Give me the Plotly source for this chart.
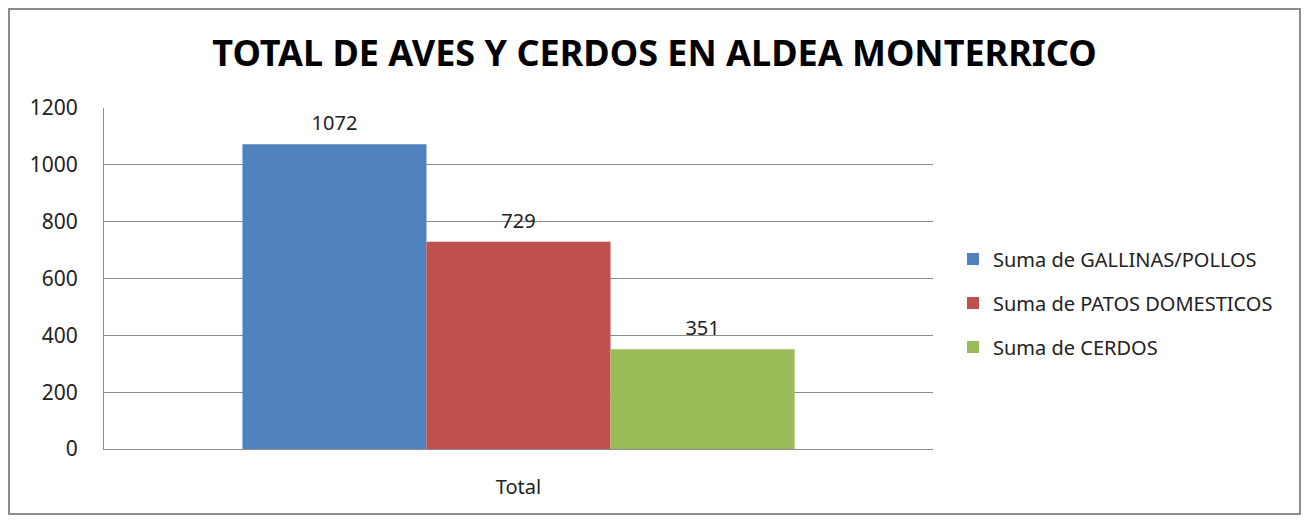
import plotly.graph_objects as go

categories = ['Total']
series_names = ['Suma de GALLINAS/POLLOS', 'Suma de PATOS DOMESTICOS', 'Suma de CERDOS']
series_values = [[1072], [729], [351]]
series_colors = ['#4F81BD', '#C0504D', '#9BBB59']
y_ticks = [0, 200, 400, 600, 800, 1000, 1200]

FONT = 'Noto Sans'
W, H = 1293, 507
L, T, R, B = 96, 100, 925, 441  # plot area in px (page is offset by body margin)

fig = go.Figure()
for i, (name, vals, col) in enumerate(zip(series_names, series_values, series_colors)):
    # small blank second line lifts the label a bit above the bar, like the original
    fig.add_trace(go.Bar(x=categories, y=vals, name=name, marker=dict(color=col, line=dict(width=0)),
                         text=[f'<span style="font-size:20px">{v}</span><br> ' for v in vals],
                         textposition='outside', cliponaxis=False,
                         textfont=dict(size=7, color='#222222'), legendgroup=str(i)))

fig.update_layout(
    width=W, height=H, barmode='group', bargap=0.334, bargroupgap=0,
    plot_bgcolor='white', paper_bgcolor='white',
    font=dict(family=FONT, size=20, color='#222222'),
    margin=dict(l=L, r=W - R, t=T, b=H - B),
    title=dict(text='<b>TOTAL DE AVES Y CERDOS EN ALDEA MONTERRICO</b>', x=0.5, xanchor='center',
               y=1 - 45 / H, yanchor='middle', font=dict(family=FONT, size=36, color='#000000')),
    legend=dict(x=(945 - L) / (R - L), y=(B - 295) / (B - T), yanchor='middle', xanchor='left',
                font=dict(size=20), tracegroupgap=15, bgcolor='rgba(0,0,0,0)'),
    showlegend=True,
)
fig.update_yaxes(range=[0, 1200], tickvals=y_ticks, showgrid=True, gridcolor='#8C8C8C', gridwidth=1,
                 showline=True, linecolor='#8C8C8C', zeroline=False, ticks='', ticklabelstandoff=21,
                 tickfont=dict(size=21))
fig.update_xaxes(showline=True, linecolor='#8C8C8C', ticks='', ticklabelstandoff=20)
fig.add_shape(type='rect', xref='paper', yref='paper', x0=-(L - 1) / (R - L), x1=(W - 1 - L) / (R - L),
              y0=-(H - B - 1) / (B - T), y1=(B - 1) / (B - T), line=dict(color='#8C8C8C', width=2))

fig.write_html('out.html')
